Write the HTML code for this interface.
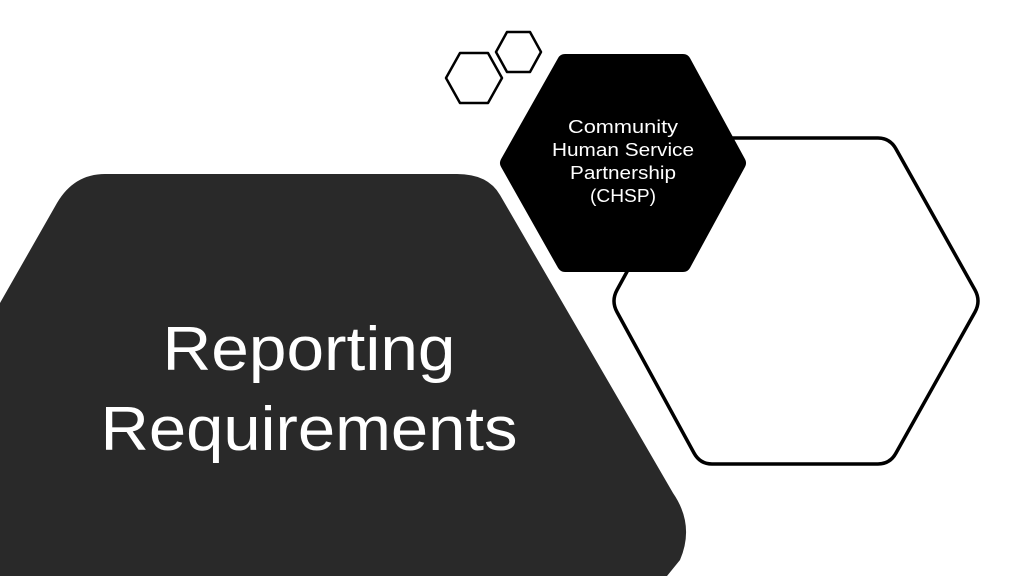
<!DOCTYPE html>
<html><head><meta charset="utf-8"><style>
html,body{margin:0;padding:0;background:#fff;width:1024px;height:576px;overflow:hidden}
svg{display:block}
text{font-family:"Liberation Sans",sans-serif}
</style></head><body>
<svg width="1024" height="576" viewBox="0 0 1024 576">
<!-- big dark hexagon -->
<path d="M105,174 L457,174 Q488,174 500,195 L673,493 Q695,525 680,560 L667,576 L0,576 L0,303 L57,203 Q74,174 105,174 Z" fill="#292929"/>
<!-- big outline hexagon -->
<path d="M712,138 L878,138 Q890,138 896,149 L975,290 Q981,301 975,312 L896,453 Q890,464 878,464 L712,464 Q700,464 694,453 L617,312 Q611,301 617,290 L694,149 Q700,138 712,138 Z" fill="none" stroke="#000" stroke-width="3.5"/>
<!-- black hexagon -->
<path d="M565,62 L683,62 L738,163 L683,264 L565,264 L508,163 Z" fill="#000" stroke="#000" stroke-width="16" stroke-linejoin="round"/>
<!-- small hexagons -->
<path d="M460,53 L488,53 L502,78 L488,103 L460,103 L446,78 Z" fill="none" stroke="#000" stroke-width="2.5" stroke-linejoin="round"/>
<path d="M507,32 L530,32 L541,52 L530,72 L507,72 L496,52 Z" fill="none" stroke="#000" stroke-width="2.5" stroke-linejoin="round"/>
<g fill="#fff" font-size="18.5" text-anchor="middle">
<text x="623" y="133" textLength="110" lengthAdjust="spacingAndGlyphs">Community</text>
<text x="623" y="156" textLength="142" lengthAdjust="spacingAndGlyphs">Human Service</text>
<text x="623" y="179" textLength="106" lengthAdjust="spacingAndGlyphs">Partnership</text>
<text x="623" y="202" textLength="66" lengthAdjust="spacingAndGlyphs">(CHSP)</text>
</g>
<g fill="#fff" font-size="62" text-anchor="middle">
<text x="309" y="370" textLength="293" lengthAdjust="spacingAndGlyphs">Reporting</text>
<text x="309" y="450" textLength="417" lengthAdjust="spacingAndGlyphs">Requirements</text>
</g>
</svg>
</body></html>
